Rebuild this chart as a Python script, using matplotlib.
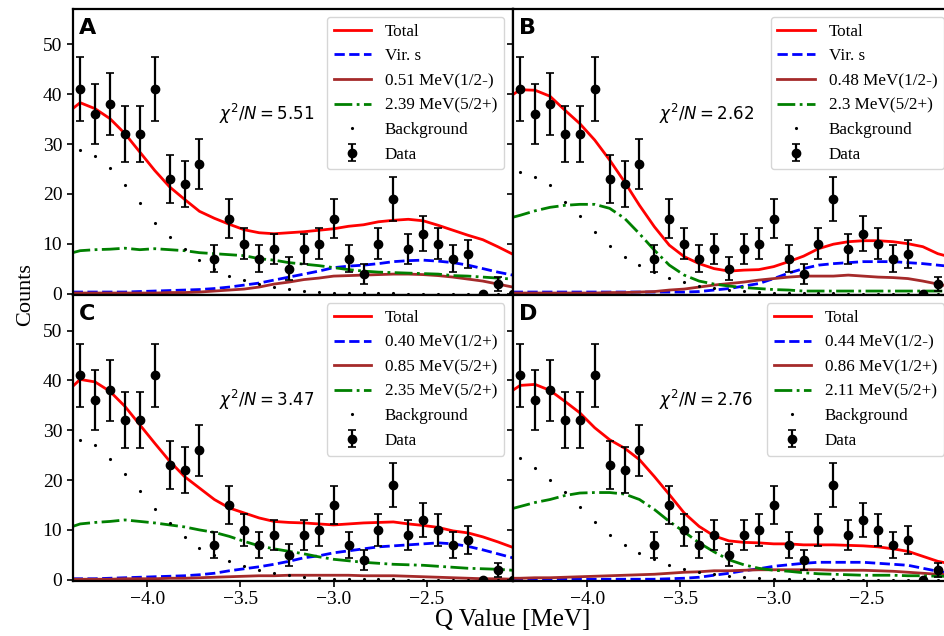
import numpy as np
import matplotlib
matplotlib.use("Agg")
import matplotlib.pyplot as plt

# --- fonts ---
plt.rcParams['font.family'] = ['Liberation Serif', 'DejaVu Serif']
plt.rcParams['mathtext.fontset'] = 'dejavusans'

# --- data (same counts in all four panels) ---
q_data = [-4.36, -4.28, -4.20, -4.12, -4.04, -3.96, -3.88, -3.80, -3.72, -3.64,
          -3.56, -3.48, -3.40, -3.32, -3.24, -3.16, -3.08, -3.00, -2.92, -2.84,
          -2.76, -2.68, -2.60, -2.52, -2.44, -2.36, -2.28, -2.20, -2.12, -2.04]
counts = [41, 36, 38, 32, 32, 41, 23, 22, 26, 7, 15, 10, 7, 9, 5, 9, 10, 15, 7, 4,
          10, 19, 9, 12, 10, 7, 8, 0, 2, 0]

# curves: left edge + the bin centres
q_curve = [-4.40] + q_data

# panel A
total_a = [37.1, 38.3, 37.1, 35.1, 32.1, 28.4, 24.7, 21.4, 18.9, 16.5, 15.1, 13.9,
           12.8, 12.2, 12.0, 12.2, 12.4, 12.7, 13.0, 13.5, 13.8, 14.4, 14.7, 14.9,
           14.6, 13.7, 12.7, 11.7, 10.8, 9.4, 7.9]
comp1_a = [0.3, 0.3, 0.3, 0.3, 0.3, 0.4, 0.5, 0.6, 0.7, 0.8, 1.0, 1.3, 1.7, 2.1,
           2.7, 3.3, 3.9, 4.5, 5.2, 5.5, 5.7, 6.0, 6.4, 6.6, 6.7, 6.5, 6.2, 5.7,
           5.0, 4.3, 3.7]
comp2_a = [0.1, 0.1, 0.1, 0.1, 0.1, 0.1, 0.1, 0.2, 0.2, 0.3, 0.5, 0.7, 0.9, 1.3,
           1.9, 2.3, 2.8, 3.1, 3.5, 3.6, 3.7, 3.8, 3.9, 3.9, 3.8, 3.6, 3.3, 2.9,
           2.5, 1.9, 1.3]
comp3_a = [8.2, 8.6, 8.8, 8.9, 9.1, 8.8, 9.0, 8.8, 8.6, 8.2, 8.0, 7.8, 7.6, 7.0,
           6.7, 6.2, 5.9, 5.6, 5.2, 4.8, 4.5, 4.3, 4.2, 4.1, 4.0, 3.9, 3.6, 3.5,
           3.3, 3.1, 2.9]
bkg_a = [28.8, 27.6, 25.1, 21.7, 18.2, 14.2, 11.4, 8.9, 6.7, 5.0, 3.6, 2.8, 1.9,
         1.3, 0.9, 0.5, 0.3, 0.2, 0.1, 0.1, 0.05, 0.05, 0, 0, 0, 0, 0, 0, 0, 0]

# panel B
total_b = [39.9, 40.9, 40.8, 39.6, 36.8, 34.1, 30.8, 26.8, 22.4, 17.7, 13.4, 9.7,
           7.4, 6.0, 5.0, 4.5, 4.7, 4.8, 5.4, 6.4, 7.5, 9.0, 9.9, 10.4, 10.6,
           10.6, 10.4, 10.0, 9.4, 8.0, 7.2]
comp1_b = [0.3, 0.3, 0.3, 0.3, 0.3, 0.3, 0.3, 0.3, 0.3, 0.3, 0.3, 0.3, 0.3, 0.4,
           0.7, 1.0, 1.5, 2.0, 3.0, 4.1, 5.0, 5.7, 6.0, 6.2, 6.4, 6.4, 6.4, 6.2,
           6.0, 5.7, 5.4]
comp2_b = [0.1, 0.1, 0.1, 0.1, 0.1, 0.1, 0.1, 0.2, 0.2, 0.3, 0.4, 0.7, 0.9, 1.3,
           1.7, 2.0, 2.3, 2.7, 3.0, 3.3, 3.5, 3.5, 3.5, 3.7, 3.5, 3.3, 3.2, 3.0,
           2.5, 1.9, 1.3]
comp3_b = [15.3, 15.7, 16.6, 17.3, 17.7, 17.9, 17.9, 17.1, 15.1, 12.0, 8.7, 5.7,
           3.7, 2.5, 1.9, 1.5, 1.2, 1.0, 0.8, 0.7, 0.5, 0.5, 0.5, 0.5, 0.5, 0.5,
           0.5, 0.5, 0.5, 0.5, 0.5]
bkg_b = [24.4, 23.3, 21.7, 18.4, 15.6, 12.4, 9.6, 7.3, 5.7, 4.3, 3.2, 2.3, 1.6,
         1.1, 0.8, 0.5, 0.3, 0.2, 0.1, 0.1, 0.05, 0.05, 0, 0, 0, 0, 0, 0, 0, 0]

# panel C
total_c = [38.8, 40.2, 39.7, 37.8, 34.8, 31.1, 27.4, 23.8, 20.7, 18.4, 16.1, 14.4,
           13.4, 12.4, 11.7, 11.5, 11.4, 11.2, 11.0, 11.2, 11.4, 11.5, 11.6, 11.2,
           10.9, 10.5, 9.8, 9.4, 8.6, 7.6, 6.5]
comp1_c = [0.2, 0.2, 0.2, 0.3, 0.4, 0.5, 0.6, 0.7, 0.8, 1.0, 1.3, 1.8, 2.2, 2.6,
           3.1, 3.7, 4.4, 4.8, 5.4, 5.8, 6.2, 6.6, 6.8, 7.0, 7.2, 7.4, 7.2, 6.7,
           6.0, 5.2, 4.4]
comp2_c = [0.1, 0.1, 0.1, 0.1, 0.2, 0.2, 0.2, 0.3, 0.3, 0.4, 0.5, 0.6, 0.7, 0.8,
           0.8, 0.9, 0.9, 0.9, 0.9, 0.9, 0.8, 0.8, 0.8, 0.7, 0.6, 0.5, 0.4, 0.3,
           0.2, 0.2, 0.1]
comp3_c = [10.7, 11.2, 11.5, 11.7, 12.0, 11.7, 11.4, 11.0, 10.6, 10.0, 9.5, 8.7,
           7.7, 6.8, 6.2, 5.7, 5.2, 4.6, 4.1, 3.8, 3.5, 3.3, 3.1, 3.0, 2.9, 2.7,
           2.5, 2.3, 2.2, 2.1, 1.9]
bkg_c = [28.1, 27.0, 24.2, 21.3, 17.9, 14.2, 11.3, 8.5, 6.4, 4.9, 3.7, 2.7, 1.9,
         1.3, 0.9, 0.5, 0.3, 0.2, 0.1, 0.1, 0.05, 0.05, 0, 0, 0, 0, 0, 0, 0, 0]

# panel D
total_d = [38.0, 39.0, 39.2, 38.0, 35.8, 33.5, 30.5, 28.1, 26.4, 24.1, 20.7, 17.1,
           13.4, 10.7, 8.8, 7.8, 7.5, 7.4, 7.2, 7.2, 7.0, 7.0, 7.0, 6.9, 6.8, 6.6,
           6.2, 5.7, 4.7, 3.7, 3.1]
comp1_d = [0.1, 0.1, 0.1, 0.1, 0.1, 0.1, 0.1, 0.1, 0.1, 0.1, 0.1, 0.2, 0.3, 0.5,
           0.9, 1.3, 1.8, 2.2, 2.7, 3.0, 3.3, 3.5, 3.5, 3.5, 3.5, 3.3, 3.1, 2.9,
           2.3, 1.7, 1.2]
comp2_d = [0.3, 0.3, 0.4, 0.4, 0.5, 0.6, 0.7, 0.8, 0.9, 1.0, 1.1, 1.3, 1.5, 1.6,
           1.8, 1.8, 1.9, 2.0, 2.0, 2.0, 2.0, 2.0, 1.9, 1.9, 1.9, 1.8, 1.7, 1.5,
           1.3, 1.1, 1.0]
comp3_d = [14.3, 14.7, 15.5, 16.1, 16.9, 17.4, 17.5, 17.5, 17.2, 16.1, 14.1, 11.7,
           9.6, 7.4, 5.6, 4.0, 3.0, 2.3, 1.9, 1.7, 1.4, 1.2, 1.1, 1.0, 0.9, 0.9,
           0.9, 0.8, 0.8, 0.7, 0.7]
bkg_d = [24.4, 22.4, 20.0, 17.7, 14.6, 11.6, 9.0, 7.0, 5.4, 4.1, 3.0, 2.1, 1.5,
         1.1, 0.7, 0.5, 0.3, 0.2, 0.1, 0.1, 0.05, 0.05, 0, 0, 0, 0, 0, 0, 0, 0]

panel_letters = ['A', 'B', 'C', 'D']
chi2_text = ['5.51', '2.62', '3.47', '2.76']
comp1_labels = ['Vir. s', 'Vir. s', '0.40 MeV(1/2+)', '0.44 MeV(1/2-)']
comp2_labels = ['0.51 MeV(1/2-)', '0.48 MeV(1/2-)', '0.85 MeV(5/2+)', '0.86 MeV(1/2+)']
comp3_labels = ['2.39 MeV(5/2+)', '2.3 MeV(5/2+)', '2.35 MeV(5/2+)', '2.11 MeV(5/2+)']

totals = [total_a, total_b, total_c, total_d]
comp1s = [comp1_a, comp1_b, comp1_c, comp1_d]
comp2s = [comp2_a, comp2_b, comp2_c, comp2_d]
comp3s = [comp3_a, comp3_b, comp3_c, comp3_d]
bkgs = [bkg_a, bkg_b, bkg_c, bkg_d]

# --- figure: 2x2 panels touching, right column runs past the image edge ---
fig = plt.figure(figsize=(9.44, 6.36), dpi=100)
w, h = 0.4661, 0.4497
boxes = [[0.0770, 0.5369, w, h], [0.5431, 0.5369, w, h],
         [0.0770, 0.0869, w, h], [0.5431, 0.0869, w, h]]

yerr = np.sqrt(counts)

for k in range(4):
    ax = fig.add_axes(boxes[k])
    ax.plot(q_curve, totals[k], color='red', lw=2, label='Total')
    ax.plot(q_curve, comp1s[k], color='blue', lw=2, ls='--', label=comp1_labels[k])
    ax.plot(q_curve, comp2s[k], color='brown', lw=2, label=comp2_labels[k])
    ax.plot(q_curve, comp3s[k], color='green', lw=2, ls='-.', label=comp3_labels[k])
    ax.plot(q_data, bkgs[k], 'k.', ms=2.5, ls='none', label='Background')
    ax.errorbar(q_data, counts, yerr=yerr, fmt='ko', ms=6, elinewidth=1.6,
                capsize=3.2, capthick=1.2, label='Data')

    ax.set_xlim(-4.40, -2.04)
    ax.set_ylim(-0.2, 57.2)
    ax.set_xticks([-4.0, -3.5, -3.0, -2.5])
    ax.set_yticks([0, 10, 20, 30, 40, 50])
    ax.tick_params(labelsize=14, width=1.2, length=4)
    for s in ax.spines.values():
        s.set_linewidth(1.6)
    if k in (0, 1):
        ax.tick_params(labelbottom=False)
    if k in (1, 3):
        ax.tick_params(labelleft=False)

    ax.text(0.014, 0.968, panel_letters[k], transform=ax.transAxes, ha='left',
            va='top', fontsize=16, fontweight='bold', family='DejaVu Sans')
    ax.text(0.44, 0.632, r'$\chi^2/N = %s$' % chi2_text[k], transform=ax.transAxes,
            ha='center', va='center', fontsize=12)
    ax.legend(loc='upper right', fontsize=12.3, handlelength=2.2, labelspacing=0.5,
              handletextpad=0.8)

fig.text(0.027, 0.537, 'Counts', rotation=90, ha='center', va='center', fontsize=16)
fig.text(0.543, 0.025, 'Q Value [MeV]', ha='center', va='center', fontsize=18)

fig.savefig('out.png', dpi=100)
